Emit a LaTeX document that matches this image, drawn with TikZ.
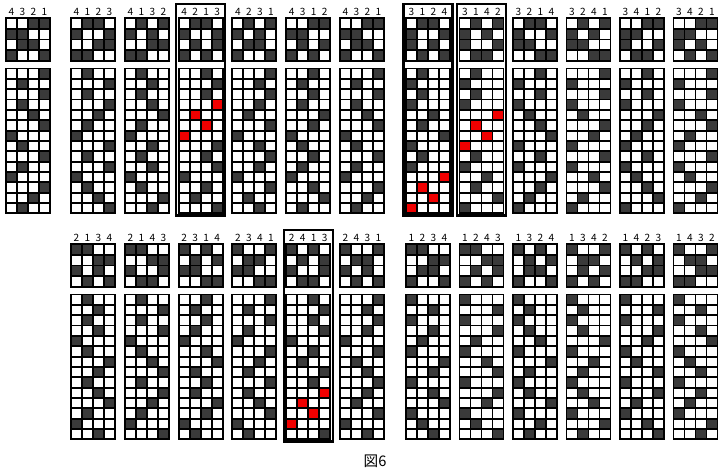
\documentclass[tikz,border=0pt]{standalone}
\usepackage{fontspec}
\newfontfamily\jpfont{Noto Sans CJK JP}
\definecolor{inkgray}{RGB}{58,58,58}
\definecolor{markred}{RGB}{240,0,0}
\usepackage{tikz}
\usetikzlibrary{positioning}

% dark cells of the 4x4 block, per thread number
\expandafter\def\csname tieup1\endcsname{1,4}
\expandafter\def\csname tieup2\endcsname{1,3}
\expandafter\def\csname tieup3\endcsname{2,3}
\expandafter\def\csname tieup4\endcsname{2,4}
% dark cells of the long block, per thread number
\expandafter\def\csname tread1\endcsname{1,3,6,9,12}
\expandafter\def\csname tread2\endcsname{5,13}
\expandafter\def\csname tread3\endcsname{2,4,8,10,14}
\expandafter\def\csname tread4\endcsname{7,11}

% #1 name, #2 left, #3 top of 4x4 block, #4 order, #5 first red row (99: none)
\newcommand{\weavepanel}[5]{%
  \foreach \l [count=\c] in {#4} {
    \node[lab] (#1-\c) at ({#2+11*\c-5.5},{#3-6.5}) {\l};
    \edef\rowsA{\csname tieup\l\endcsname}
    \edef\rowsB{\csname tread\l\endcsname}
    \foreach \r in \rowsA
      \fill[inkgray] ({#2+11*(\c-1)},{#3+10.75*(\r-1)}) rectangle +(11,10.75);
    \foreach \r in \rowsB {
      \ifnum\r<#5 \def\cellcol{inkgray}\else
        \ifnum\r>\numexpr#5+3\relax \def\cellcol{inkgray}\else \def\cellcol{markred}\fi\fi
      \fill[\cellcol] ({#2+11*(\c-1)},{#3+50.5+10.35*(\r-1)}) rectangle +(11,10.35);
    }
  }
  \foreach \i in {0,...,4} {
    \draw[gridline] ({#2+11*\i},{#3}) -- ++(0,43);
    \draw[gridline] ({#2},{#3+10.75*\i}) -- ++(44,0);
    \draw[gridline] ({#2+11*\i},{#3+50.5}) -- ++(0,144.9);
  }
  \foreach \i in {0,...,14}
    \draw[gridline] ({#2},{#3+50.5+10.35*\i}) -- ++(44,0);
}
\newcommand{\boxpanel}[2]{%
  \draw[frame] ({#1-2.5},{#2-14}) rectangle ({#1+46.5},{#2+197.6});
}

\begin{document}
\begin{tikzpicture}[
    x=0.03cm, y=-0.03cm,
    gridline/.style={line width=1.6pt, black, line cap=rect},
    frame/.style={line width=2pt, black},
    lab/.style={font=\jpfont\fontsize{8.6}{10}\selectfont, inner sep=0pt}
  ]
  \useasboundingbox (0,0) rectangle (722,474);

  % upper row
  \weavepanel{a0}{6}{18}{4,3,2,1}{99}
  \weavepanel{a1}{71}{18}{4,1,2,3}{99}
  \weavepanel{a2}{124.8}{18}{4,1,3,2}{99}
  \weavepanel{a3}{178.6}{18}{4,2,1,3}{4}
  \boxpanel{178.6}{18}
  \weavepanel{a4}{232.4}{18}{4,2,3,1}{99}
  \weavepanel{a5}{286.2}{18}{4,3,1,2}{99}
  \weavepanel{a6}{340}{18}{4,3,2,1}{99}
  \weavepanel{a7}{406}{18}{3,1,2,4}{11}
  \boxpanel{406}{18}
  \weavepanel{a8}{459.5}{18}{3,1,4,2}{5}
  \boxpanel{459.5}{18}
  \weavepanel{a9}{513}{18}{3,2,1,4}{99}
  \weavepanel{a10}{566.5}{18}{3,2,4,1}{99}
  \weavepanel{a11}{620}{18}{3,4,1,2}{99}
  \weavepanel{a12}{673.5}{18}{3,4,2,1}{99}

  % lower row
  \weavepanel{b1}{71}{244}{2,1,3,4}{99}
  \weavepanel{b2}{124.8}{244}{2,1,4,3}{99}
  \weavepanel{b3}{178.6}{244}{2,3,1,4}{99}
  \weavepanel{b4}{232.4}{244}{2,3,4,1}{99}
  \weavepanel{b5}{286.2}{244}{2,4,1,3}{10}
  \boxpanel{286.2}{244}
  \weavepanel{b6}{340}{244}{2,4,3,1}{99}
  \weavepanel{b7}{406}{244}{1,2,3,4}{99}
  \weavepanel{b8}{459.5}{244}{1,2,4,3}{99}
  \weavepanel{b9}{513}{244}{1,3,2,4}{99}
  \weavepanel{b10}{566.5}{244}{1,3,4,2}{99}
  \weavepanel{b11}{620}{244}{1,4,2,3}{99}
  \weavepanel{b12}{673.5}{244}{1,4,3,2}{99}

  \node[font=\jpfont\fontsize{12.5}{14}\selectfont, inner sep=0pt] (cap) at (375,461.5) {図6};
\end{tikzpicture}
\end{document}
